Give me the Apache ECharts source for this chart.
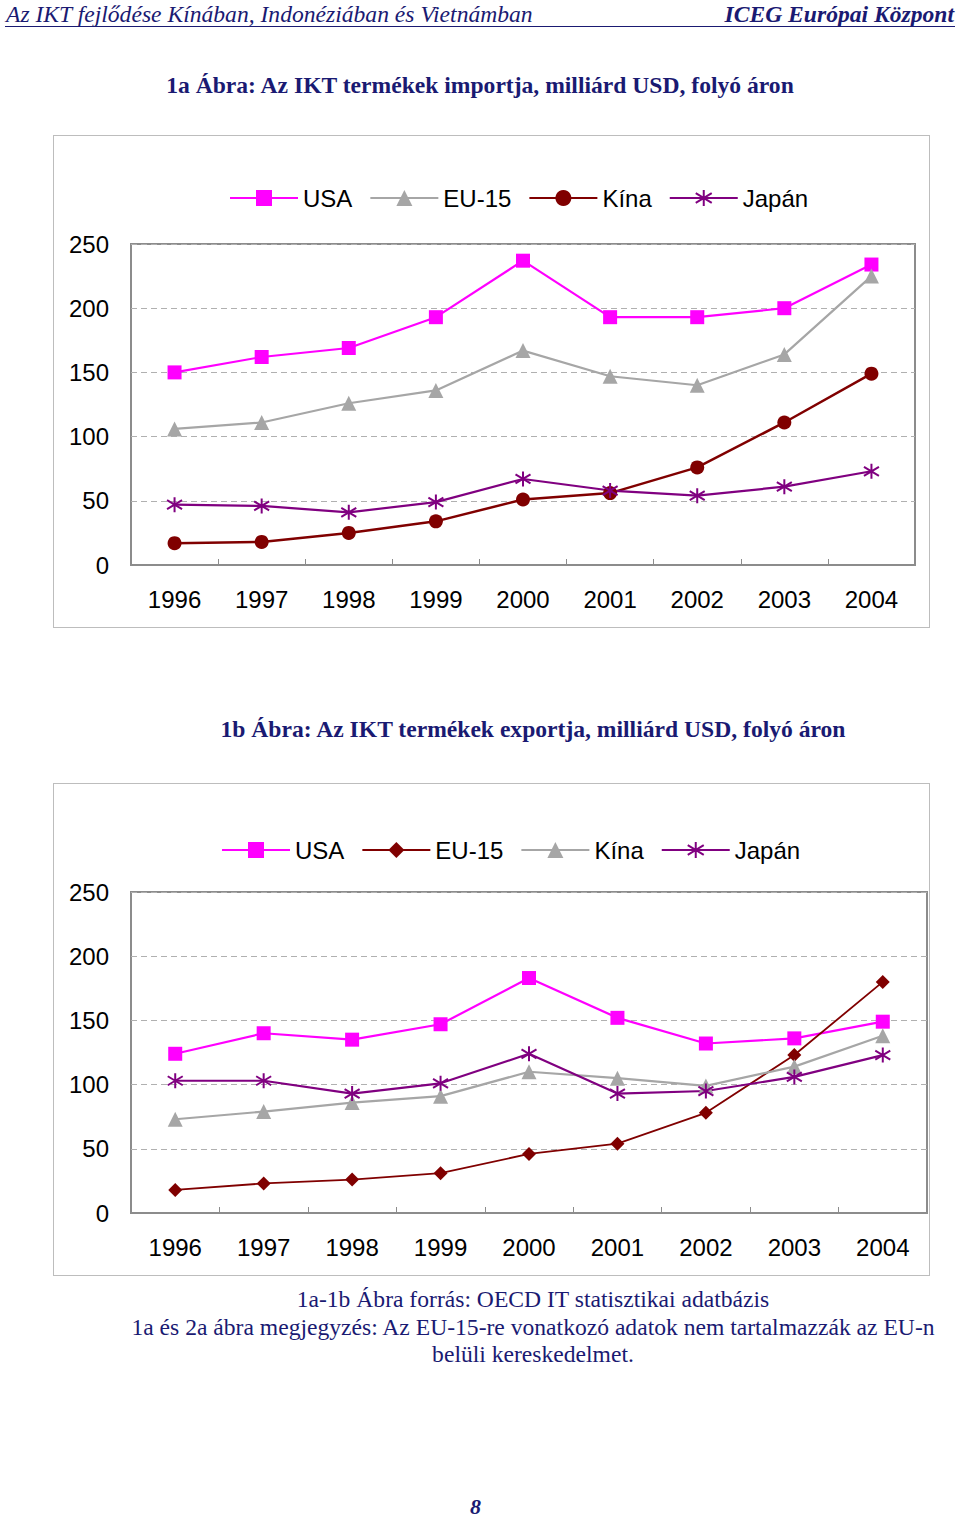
<!DOCTYPE html>
<html>
<head>
<meta charset="utf-8">
<script src="https://cdn.jsdelivr.net/npm/echarts@6/dist/echarts.min.js"></script>
<style>
  html, body { margin:0; padding:0; background:#fff; }
  body { width:960px; height:1519px; position:relative; overflow:hidden; }
  .t { position:absolute; color:#1a1a72; font-family:'Liberation Serif','DejaVu Serif',serif; white-space:nowrap; }
  .box { position:absolute; border:1px solid #bdbdbd; }
</style>
</head>
<body>
<div class="t" id="hdrL" style="left:6px; top:1px; font-size:23.6px; font-style:italic;">Az IKT fejlődése Kínában, Indonéziában és Vietnámban</div>
<div class="t" id="hdrR" style="right:6px; top:1px; font-size:23.6px; font-style:italic; font-weight:bold;">ICEG Európai Központ</div>
<div style="position:absolute; left:5px; top:26px; width:950px; height:0; border-top:1.5px solid #1a1a72;"></div>

<div class="t" style="left:0; width:960px; text-align:center; top:72px; font-size:23.6px; font-weight:bold;">1a Ábra: Az IKT termékek importja, milliárd USD, folyó áron</div>
<div class="box" id="c1" style="left:53px; top:135px; width:875px; height:491px;"></div>

<div class="t" style="left:0; width:1066px; text-align:center; top:716px; font-size:23.6px; font-weight:bold;">1b Ábra: Az IKT termékek exportja, milliárd USD, folyó áron</div>
<div class="box" id="c2" style="left:53px; top:783px; width:875px; height:491px;"></div>

<div class="t" style="left:0; width:1066px; text-align:center; top:1286px; font-size:23.6px; line-height:27.5px;">1a-1b Ábra forrás: OECD IT statisztikai adatbázis<br>1a és 2a ábra megjegyzés: Az EU-15-re vonatkozó adatok nem tartalmazzák az EU-n<br>belüli kereskedelmet.</div>

<div class="t" style="left:470px; top:1494px; font-size:22px; font-style:italic; font-weight:bold;">8</div>

<script>
// ---- data ----
const years = ['1996','1997','1998','1999','2000','2001','2002','2003','2004'];
const yTicks = [0, 50, 100, 150, 200, 250];

// 1a: imports
const impUSA   = [150, 162, 169, 193, 237, 193, 193, 200, 234];
const impEU15  = [106, 111, 126, 136, 167, 147, 140, 164, 225];
const impKina  = [17, 18, 25, 34, 51, 56, 76, 111, 149];
const impJapan = [47, 46, 41, 49, 67, 58, 54, 61, 73];

// 1b: exports
const expUSA   = [124, 140, 135, 147, 183, 152, 132, 136, 149];
const expEU15  = [18, 23, 26, 31, 46, 54, 78, 123, 180];
const expKina  = [73, 79, 86, 91, 110, 105, 99, 114, 138];
const expJapan = [103, 103, 93, 101, 124, 93, 95, 106, 123];

const MAGENTA = '#ff00ff', GRAY = '#a6a6a6', DARKRED = '#800000', PURPLE = '#800080';
const STAR = 'path://M10,0 L10,20 M1.5,4 L18.5,16 M1.5,16 L18.5,4';
const SANS = "'Liberation Sans', Arial, sans-serif";

function mkSeries(name, data, color, symbol, size, width) {
  const s = {
    name: name, type: 'line', data: data, symbol: symbol, symbolSize: size,
    showSymbol: true, animation: false,
    lineStyle: { color: color, width: width },
    itemStyle: { color: color }
  };
  if (symbol === STAR) {
    s.itemStyle = { color: color, borderColor: color, borderWidth: 2 };
  }
  return s;
}

function mkOption(gridW, legendLeft, legendTop, series) {
  return {
    backgroundColor: '#fff',
    animation: false,
    textStyle: { fontFamily: SANS },
    legend: {
      left: legendLeft, top: legendTop,
      itemWidth: 68, itemHeight: 20, itemGap: 17,
      textStyle: { fontSize: 24, color: '#000', fontFamily: SANS },
      data: series.map(s => s.name)
    },
    grid: {
      left: 77, top: 108, width: gridW, height: 321,
      show: true, borderColor: '#8c8c8c', borderWidth: 2, backgroundColor: 'transparent'
    },
    xAxis: {
      type: 'category', data: years, boundaryGap: true,
      axisLine: { show: true, lineStyle: { color: '#8c8c8c', width: 2 } },
      axisTick: { show: true, inside: true, length: 6, lineStyle: { color: '#8c8c8c', width: 1 } },
      axisLabel: { fontSize: 24, color: '#000', margin: 22, fontFamily: SANS }
    },
    yAxis: {
      type: 'value', min: yTicks[0], max: yTicks[yTicks.length - 1], interval: yTicks[1] - yTicks[0],
      axisLine: { show: false }, axisTick: { show: false },
      axisLabel: { fontSize: 24, color: '#000', margin: 22, fontFamily: SANS },
      splitLine: { show: true, lineStyle: { color: '#b0b0b0', type: [6, 4], width: 1 } }
    },
    series: series
  };
}

const opt1 = mkOption(784, 170, 45, [
  mkSeries('USA', impUSA, MAGENTA, 'rect', 14, 2.2),
  mkSeries('EU-15', impEU15, GRAY, 'triangle', 15, 2.2),
  mkSeries('Kína', impKina, DARKRED, 'circle', 14, 2.5),
  mkSeries('Japán', impJapan, PURPLE, STAR, 15, 2.2)
]);
const opt2 = mkOption(796, 162, 49, [
  mkSeries('USA', expUSA, MAGENTA, 'rect', 14, 2.2),
  mkSeries('EU-15', expEU15, DARKRED, 'diamond', 14, 1.8),
  mkSeries('Kína', expKina, GRAY, 'triangle', 15, 2.2),
  mkSeries('Japán', expJapan, PURPLE, STAR, 15, 2.2)
]);

const ch1 = echarts.init(document.getElementById('c1'), null, { renderer: 'svg', width: 875, height: 491 });
ch1.setOption(opt1);
const ch2 = echarts.init(document.getElementById('c2'), null, { renderer: 'svg', width: 875, height: 491 });
ch2.setOption(opt2);
</script>
</body>
</html>
